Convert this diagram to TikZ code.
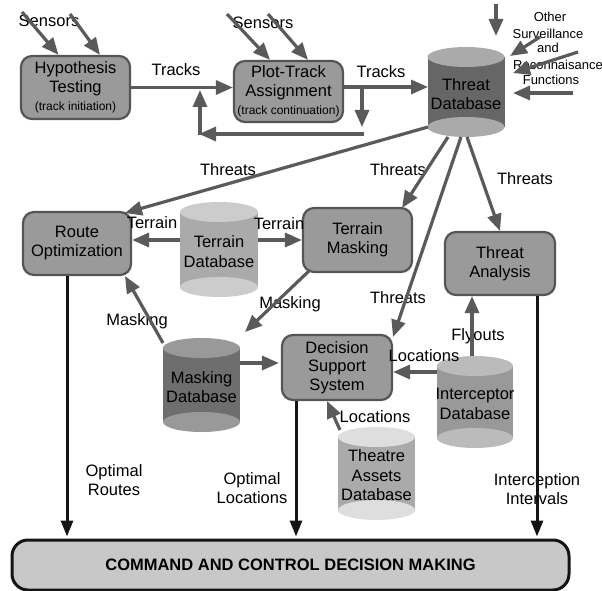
\documentclass[tikz,border=0pt]{standalone}
\usepackage{fontspec}
\setmainfont{Liberation Sans}
\usetikzlibrary{arrows.meta,calc}
\definecolor{arr}{HTML}{5A5A5A}
\definecolor{boxfill}{HTML}{9A9A9A}
\definecolor{boxdraw}{HTML}{555555}
\definecolor{c66}{HTML}{666666}
\definecolor{c6e}{HTML}{6E6E6E}
\definecolor{c99}{HTML}{999999}
\definecolor{caa}{HTML}{AAAAAA}
\definecolor{cbb}{HTML}{BBBBBB}
\definecolor{ccc}{HTML}{CCCCCC}
\definecolor{cdd}{HTML}{DEDEDE}
\definecolor{bottomfill}{HTML}{C8C8C8}
\newcommand{\dbcyl}[8]{%
  \fill[#6] (#2-#5,#3) rectangle (#2+#5,#4);
  \fill[#7] (#2,#4) ellipse [x radius=#5pt, y radius=10pt];
  \fill[#7] (#2,#3) ellipse [x radius=#5pt, y radius=10pt];
  \node[lbl] (#1) at (#2,{(#3+#4)/2+2}) {#8};
}
\newcommand{\smallfnt}{\fontsize{12}{14}\selectfont}
\tikzset{
  lbl/.style={font=\fontsize{16.5}{19.5}\selectfont, inner sep=0pt, align=center},
  olbl/.style={font=\fontsize{13}{15}\selectfont, inner sep=0pt, align=center},
  box/.style={draw=boxdraw, line width=2.2pt, fill=boxfill, rounded corners=11pt,
    inner sep=0pt, align=center, font=\fontsize{16.5}{19}\selectfont},
  garr/.style={draw=arr, line width=3.2pt, -{Triangle[length=17pt,width=14pt]}},
  barr/.style={draw=black!92, line width=3pt, -{Triangle[length=16pt,width=12pt]}},
}
\begin{document}
\begin{tikzpicture}[x=1pt,y=-1pt]
\useasboundingbox[fill=white] (0,0) rectangle (602,591);

% ---------- boxes ----------
\node[box, minimum width=109pt, minimum height=63pt] (ht) at (75.5,87.5)
  {Hypothesis\\Testing\\[-1pt]{\smallfnt (track initiation)}};
\node[box, minimum width=109pt, minimum height=61pt] (pta) at (288.5,91.5)
  {Plot-Track\\Assignment\\[-1pt]{\smallfnt (track continuation)}};
\node[box, minimum width=108pt, minimum height=63pt] (ro) at (77,243.5)
  {Route\\Optimization};
\node[box, minimum width=109pt, minimum height=64pt] (tm) at (357.5,240)
  {Terrain\\Masking};
\node[box, minimum width=110pt, minimum height=63pt] (ta) at (500,263.5)
  {Threat\\Analysis};
\node[box, minimum width=110pt, minimum height=65pt, font=\fontsize{16.5}{18.5}\selectfont] (dss) at (337,367.5)
  {Decision\\Support\\System};
\node[draw=black!92, line width=3pt, fill=bottomfill, rounded corners=16pt,
  minimum width=557pt, minimum height=50pt, inner sep=0pt,
  font=\fontsize{16.5}{19}\selectfont\bfseries] (cc) at (290.5,565)
  {COMMAND AND CONTROL DECISION MAKING};

% ---------- cylinders ----------
\dbcyl{tdb}{466}{57}{127}{38.5}{c66}{caa}{Threat\\Database}
\dbcyl{terdb}{219}{212}{287}{39}{caa}{ccc}{Terrain\\Database}
\dbcyl{mdb}{201.5}{348}{422}{38.5}{c6e}{c99}{Masking\\Database}
\dbcyl{idb}{475}{366}{438}{38}{c99}{cbb}{Interceptor\\Database}
\dbcyl{tadb}{376.5}{437}{510}{38.5}{caa}{cdd}{Theatre\\Assets\\Database}

% ---------- named ports ----------
\coordinate (s1a) at (22,12);   \coordinate (s1b) at (70,14);
\coordinate (s2a) at (227,14);  \coordinate (s2b) at (268,14);
\coordinate (tdbW) at (428,87);
\coordinate (loopA) at (362,87);  \coordinate (loopB) at (362,127);
\coordinate (loopC) at (363.5,134); \coordinate (loopD) at (199,134);
\coordinate (loopE) at (200,135.5); \coordinate (loopF) at (200,90);
\coordinate (o1a) at (496,4);   \coordinate (o1b) at (496,36);
\coordinate (o2a) at (540,37);  \coordinate (o2b) at (510,56);
\coordinate (o3a) at (578,52);  \coordinate (o3b) at (513,73);
\coordinate (o4a) at (573,93);  \coordinate (o4b) at (513,93);
\coordinate (tdbR) at (428,127);
\coordinate (tdbB1) at (448,137);
\coordinate (tdbB2) at (461,137);
\coordinate (tdbB3) at (467,137);
\coordinate (roTR) at (125,213);
\coordinate (roBR) at (125,276);
\coordinate (tmT) at (402,208);
\coordinate (tmB) at (310,270);
\coordinate (dssT) at (393,337);
\coordinate (dssBL) at (327,401);
\coordinate (taT) at (500,231);
\coordinate (terL) at (180,240); \coordinate (terR) at (258,240);
\coordinate (mdbT) at (245,332); \coordinate (mdbL) at (163,343);
\coordinate (mdbR) at (240,363);
\coordinate (idbL) at (437,372); \coordinate (idbT) at (472,356);
\coordinate (tadbT) at (340,430);

% ---------- labels ----------
\node[lbl] (lsens1) at (49,21) {Sensors};
\node[lbl] (lsens2) at (263,23) {Sensors};
\node[lbl] (ltr1) at (176,70) {Tracks};
\node[lbl] (ltr2) at (381,72) {Tracks};
\node[olbl] (lo1) at (550,17) {Other};
\node[olbl] (lo2) at (548,34) {Surveillance};
\node[olbl] (lo3) at (548,48) {and};
\node[olbl] (lo4) at (558,65) {Reconnaisance};
\node[olbl] (lo5) at (551,80) {Functions};
\node[lbl] (lth1) at (228,170) {Threats};
\node[lbl] (lth2) at (398,170) {Threats};
\node[lbl] (lth3) at (525,179) {Threats};
\node[lbl] (lth4) at (398,298) {Threats};
\node[lbl] (lter1) at (152,223) {Terrain};
\node[lbl] (lter2) at (279,224) {Terrain};
\node[lbl] (lmask1) at (290,304) {Masking};
\node[lbl] (lmask2) at (137,321) {Masking};
\node[lbl] (lfly) at (478,336) {Flyouts};
\node[lbl] (lloc1) at (424,356) {Locations};
\node[lbl] (lloc2) at (375,417) {Locations};
\node[lbl] (lopt1) at (114,480) {Optimal\\Routes};
\node[lbl] (lopt2) at (252,488) {Optimal\\Locations};
\node[lbl] (lint) at (537,489) {Interception\\Intervals};

% ---------- gray connectors ----------
\draw[garr] (s1a) -- ($(ht.north)+(-17,0)$);
\draw[garr] (s1b) -- ($(ht.north)+(24.5,0)$);
\draw[garr] (s2a) -- ($(pta.north)+(-18.5,0)$);
\draw[garr] (s2b) -- ($(pta.north)+(19.5,0)$);
\draw[garr] (ht.east) -- (ht.east -| pta.west);
\draw[garr] (pta.east |- tdbW) -- (tdbW);
\draw[garr] (loopA) -- (loopB);
\draw[garr] (loopC) -- (loopD);
\draw[garr] (loopE) -- (loopF);
\draw[garr] (o1a) -- (o1b);
\draw[garr] (o2a) -- (o2b);
\draw[garr] (o3a) -- (o3b);
\draw[garr] (o4a) -- (o4b);
\draw[garr] (tdbR) -- (roTR);
\draw[garr] (tdbB1) -- (tmT);
\draw[garr] (tdbB2) -- (dssT);
\draw[garr] (tdbB3) -- (taT);
\draw[garr] (terL) -- (terL -| ro.east);
\draw[garr] (terR) -- (terR -| tm.west);
\draw[garr] (tmB) -- (mdbT);
\draw[garr] (mdbL) -- (roBR);
\draw[garr] (mdbR) -- ($(mdbR -| dss.west)+(-2,0)$);
\draw[garr] (idbL) -- (idbL -| dss.east);
\draw[garr] (idbT) -- (idbT |- ta.south);
\draw[garr] (tadbT) -- (dssBL);

% ---------- black connectors ----------
\draw[barr] (ro.south -| 67,0) -- ($(cc.north -| 67,0)+(0,-2)$);
\draw[barr] (dss.south -| 296,0) -- ($(cc.north -| 296,0)+(0,-2)$);
\draw[barr] (ta.south -| 537,0) -- ($(cc.north -| 537,0)+(0,-2)$);
\end{tikzpicture}
\end{document}
